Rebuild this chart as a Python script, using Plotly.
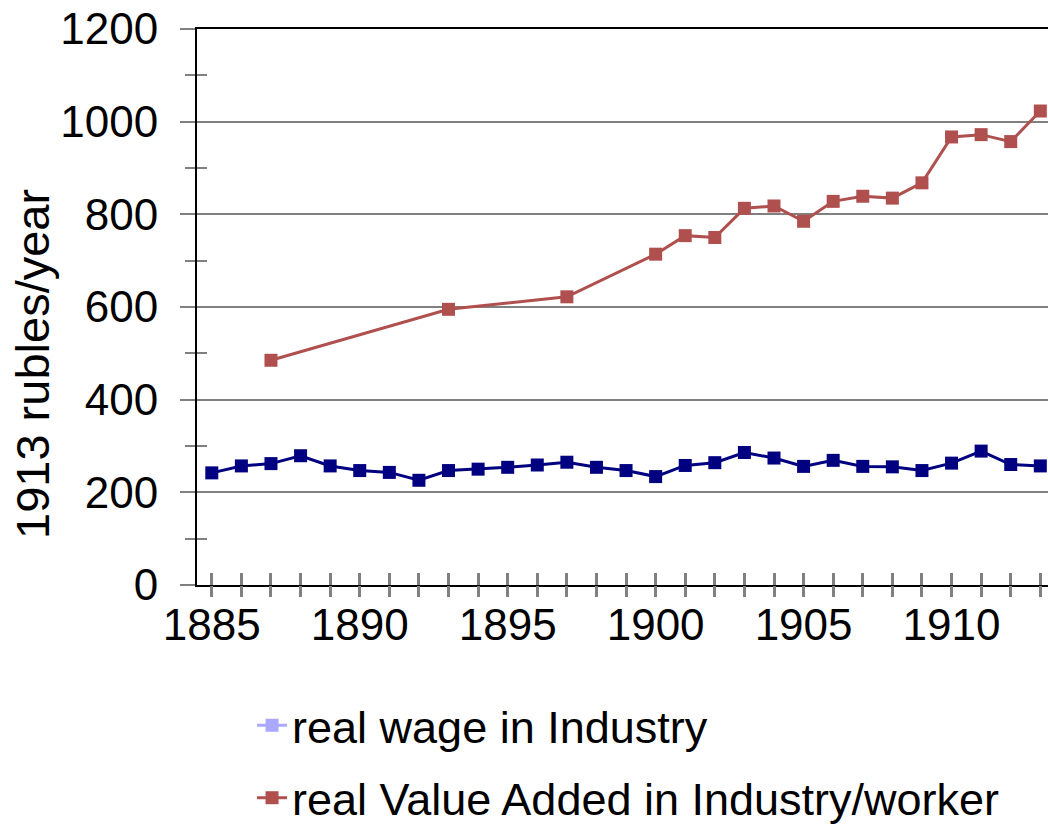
import plotly.graph_objects as go

# ---- data ----
years_wage = list(range(1885, 1914))
real_wage = [242, 257, 262, 279, 257, 247, 243, 226, 247, 250,
             254, 259, 265, 254, 247, 234, 258, 264, 286, 274,
             256, 269, 256, 255, 247, 263, 289, 260, 257]

years_va = [1887, 1893, 1897, 1900, 1901, 1902, 1903, 1904, 1905,
            1906, 1907, 1908, 1909, 1910, 1911, 1912, 1913]
real_va = [485, 595, 622, 714, 754, 750, 813, 818, 785,
           828, 839, 835, 868, 967, 972, 957, 1023]

tick_years = list(range(1885, 1914))
tick_labels = [str(y) if y % 5 == 0 else "" for y in tick_years]
y_ticks = [0, 200, 400, 600, 800, 1000, 1200]

name_wage = "real wage in Industry"
name_va = "real Value Added in Industry/worker"
y_title = "1913 rubles/year"

NAVY = "#000080"
RED = "#B0504E"
LEGEND_BLUE = "#A9A9FF"
GRAY = "#808080"
FONT = "Arial, Liberation Sans, sans-serif"

XR = [1884.5, 1913.26]
YR = [0, 1200]

fig = go.Figure()

# legend-only entry (reference legend shows a light blue swatch)
fig.add_trace(go.Scatter(
    x=[None], y=[None], name=name_wage, mode="lines+markers",
    line=dict(color=LEGEND_BLUE, width=3),
    marker=dict(symbol="square", size=13, color=LEGEND_BLUE),
    legendgroup="g1", xaxis="x2", yaxis="y2"))

fig.add_trace(go.Scatter(
    x=years_wage, y=real_wage, name=name_wage, mode="lines+markers",
    line=dict(color=NAVY, width=3),
    marker=dict(symbol="square", size=13, color=NAVY),
    showlegend=False, legendgroup="g1"))

fig.add_trace(go.Scatter(
    x=years_va, y=real_va, name=name_va, mode="lines+markers",
    line=dict(color=RED, width=3),
    marker=dict(symbol="square", size=13, color=RED),
    legendgroup="g2"))

fig.add_annotation(
    text=y_title, textangle=-90, showarrow=False,
    xref="paper", yref="paper", x=(33 - 197) / 851, y=0.3975,
    xanchor="center", yanchor="middle",
    font=dict(family=FONT, size=47, color="black"))

fig.update_layout(
    width=1048, height=828,
    margin=dict(l=197, r=0, t=29, b=243, autoexpand=False),
    paper_bgcolor="white", plot_bgcolor="white",
    font=dict(family=FONT, size=44, color="black"),
    showlegend=True,
    legend=dict(
        xref="container", yref="container",
        x=0.2405, xanchor="left", y=0.1673, yanchor="top",
        orientation="v", tracegroupgap=11,
        font=dict(family=FONT, size=45, color="black"),
        bgcolor="rgba(0,0,0,0)"),
    xaxis=dict(
        range=XR, autorange=False,
        tickmode="array", tickvals=tick_years, ticktext=tick_labels,
        ticks="inside", ticklen=12, tickwidth=3, tickcolor=GRAY,
        showline=True, linecolor="black", linewidth=2, mirror=True,
        showgrid=False, zeroline=False,
        tickfont=dict(family=FONT, size=44, color="black"),
        ticklabelstandoff=0, ticklabeloverflow="allow"),
    yaxis=dict(
        range=YR, autorange=False,
        tickmode="array", tickvals=y_ticks,
        ticks="outside", ticklen=15, tickwidth=2, tickcolor=GRAY,
        minor=dict(dtick=100, tick0=0, ticks="outside", ticklen=10,
                   tickwidth=2, tickcolor=GRAY, showgrid=False),
        showline=True, linecolor="black", linewidth=2,
        showgrid=True, gridcolor=GRAY, gridwidth=2, zeroline=False,
        tickfont=dict(family=FONT, size=44, color="black"),
        ticklabelstandoff=13, ticklabeloverflow="allow"),
    xaxis2=dict(
        overlaying="x", anchor="y2", range=XR, autorange=False,
        tickmode="array", tickvals=tick_years,
        ticks="outside", ticklen=11, tickwidth=3, tickcolor=GRAY,
        showticklabels=False, showgrid=False, showline=False, zeroline=False),
    yaxis2=dict(
        overlaying="y", anchor="x2", side="left", range=YR, autorange=False,
        tickmode="array", tickvals=y_ticks,
        ticks="inside", ticklen=15, tickwidth=2, tickcolor=GRAY,
        minor=dict(dtick=100, tick0=0, ticks="inside", ticklen=10,
                   tickwidth=2, tickcolor=GRAY, showgrid=False),
        showticklabels=False, showgrid=False, showline=False, zeroline=False),
)

fig.write_html(
    "out.html",
    config={"displayModeBar": False},
    post_script="document.body.style.margin='0';"
                "document.body.style.overflow='hidden';")
